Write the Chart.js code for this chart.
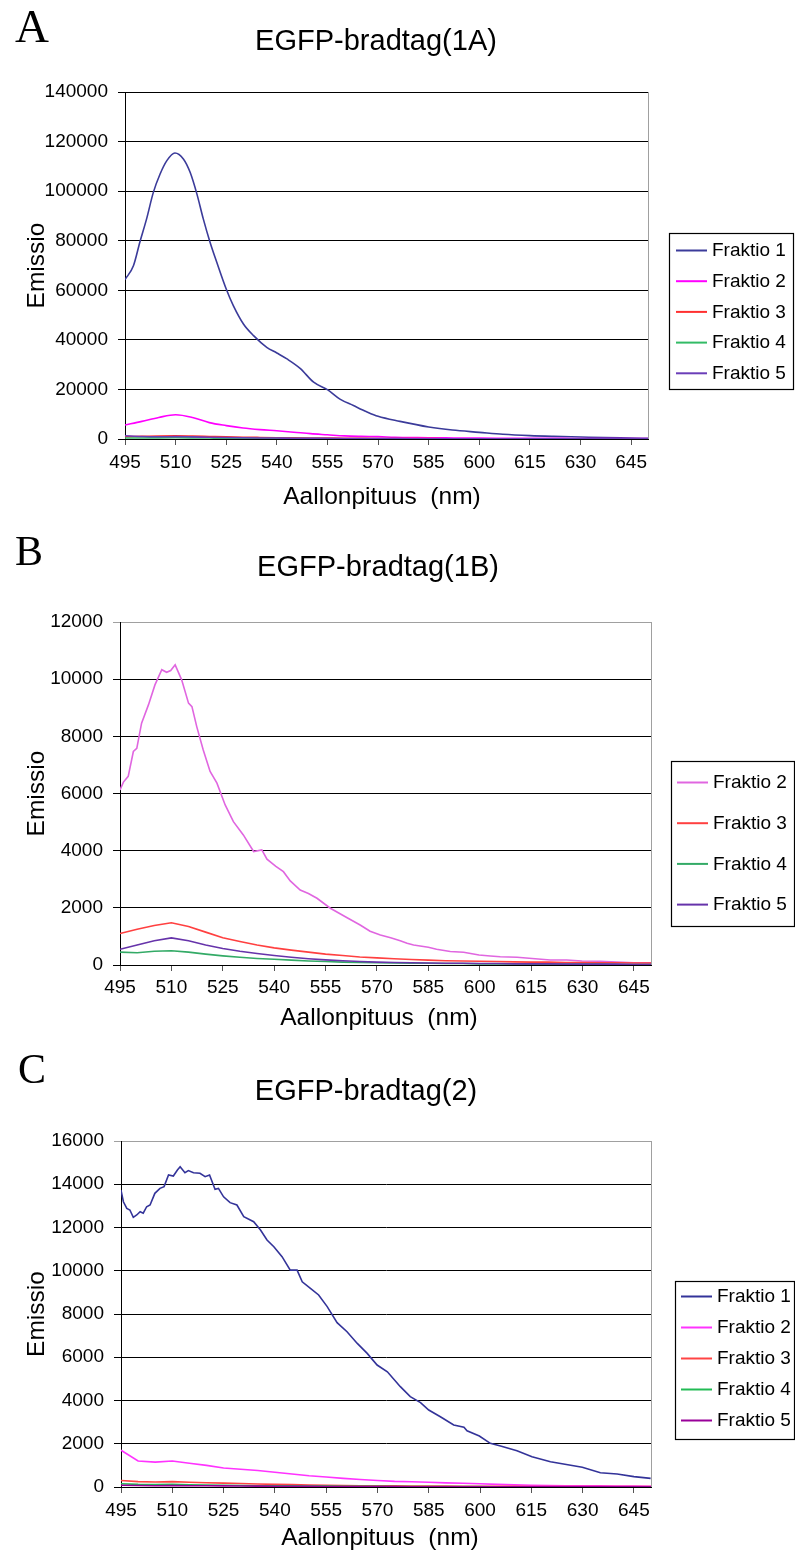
<!DOCTYPE html>
<html>
<head>
<meta charset="utf-8">
<title>EGFP-bradtag</title>
<script src="https://cdn.jsdelivr.net/npm/chart.js@4.4.1/dist/chart.umd.min.js"></script>
<style>
  html, body { margin: 0; padding: 0; background: #fff; }
  .panel { position: absolute; left: 0; width: 795px; }
  canvas { display: block; }
</style>
</head>
<body>
<div class="panel" style="top:0px"><canvas id="chartA" width="795" height="515"></canvas></div>
<div class="panel" style="top:515px"><canvas id="chartB" width="795" height="525"></canvas></div>
<div class="panel" style="top:1040px"><canvas id="chartC" width="795" height="520"></canvas></div>

<script>
// ---- data ----
var xTicksFrom = 495, xTicksStep = 15, xMax = 650;

// shared 5 nm grid for the weaker fractions
var wl5 = [495, 500, 505, 510, 515, 520, 525, 530, 535, 540, 545, 550, 555, 560, 565, 570,
           575, 580, 585, 590, 595, 600, 605, 610, 615, 620, 625, 630, 635, 640, 645, 650];

// A: EGFP-bradtag(1A)
var wlA1 = [495, 497.5, 499.4, 501.4, 503.4, 505.4, 507.4, 509.8, 512.3, 514.3, 516.3, 518.2, 520.2, 522.2,
            525, 527.1, 530.1, 533.1, 537, 540, 543, 546.9, 550.9, 555.1, 558.7, 562.7, 566.6, 570, 576.5,
            585, 592, 600, 607, 615, 622, 630, 637, 645, 650];
var fr1A = [64300, 69900, 79400, 88800, 99500, 106900, 112300, 115400, 113000, 107600, 98900, 88800, 79400, 71300,
            60500, 53800, 46400, 41700, 37000, 34700, 32300, 28500, 22900, 19800, 16100, 13500, 11000, 9150, 7100,
            4840, 3600, 2690, 1900, 1345, 1050, 810, 600, 400, 270];
var fr2A = [5650, 7100, 8700, 9800, 8700, 6600, 5400, 4450, 3800, 3300, 2750, 2150, 1700, 1250, 1050, 940,
            700, 600, 500, 450, 400, 350, 320, 300, 280, 260, 240, 220, 200, 190, 180, 170];
var fr3A = [900, 1050, 1200, 1250, 1150, 1000, 850, 720, 620, 530, 460, 400, 350, 300, 260, 220,
            190, 170, 150, 130, 120, 110, 100, 90, 80, 80, 70, 70, 60, 60, 50, 50];
var fr4A = [400, 420, 460, 480, 440, 380, 320, 270, 230, 200, 170, 150, 130, 110, 100, 90,
            80, 70, 60, 60, 50, 50, 40, 40, 40, 30, 30, 30, 30, 30, 20, 20];
var fr5A = [1300, 1000, 900, 950, 850, 720, 600, 500, 430, 380, 330, 290, 250, 220, 190, 170,
            150, 130, 120, 110, 100, 90, 80, 80, 70, 70, 60, 60, 60, 50, 50, 50];

// B: EGFP-bradtag(1B)
var wlB2 = [495, 496, 497.4, 498.9, 499.9, 501.3, 503.3, 505.2, 507.2, 508.6, 509.8, 511.1, 513, 515, 516,
            517.4, 519.3, 521.3, 523.3, 525.7, 528.1, 531, 534, 536.4, 537.9, 540.5, 542.7, 544.7, 547.6, 550,
            552.5, 556.4, 561.3, 565.1, 568, 571, 574, 576.8, 578.8, 580.7, 582.6, 585, 587.4, 591.4, 595.3,
            599.8, 603.1, 606, 610.9, 615.3, 620.6, 625.4, 629.8, 635.1, 640, 645, 650];
var fr2B = [6125, 6400, 6600, 7470, 7580, 8460, 9100, 9800, 10330, 10240, 10300, 10500, 9975, 9160, 9040,
            8340, 7525, 6770, 6360, 5600, 5015, 4550, 3970, 4025, 3700, 3450, 3265, 2940, 2625, 2500,
            2335, 1985, 1655, 1400, 1180, 1050, 950, 850, 760, 700, 665, 620, 550, 470, 445,
            350, 315, 290, 270, 230, 175, 175, 140, 130, 105, 80, 80];
var fr3B = [1100, 1250, 1380, 1480, 1350, 1150, 950, 820, 700, 600, 520, 450, 380, 330, 280, 250,
            220, 190, 170, 150, 140, 130, 120, 110, 100, 100, 90, 90, 80, 80, 70, 70];
var fr4B = [450, 430, 480, 500, 450, 380, 320, 270, 230, 200, 170, 140, 120, 100, 90, 80,
            70, 60, 60, 50, 50, 40, 40, 40, 30, 30, 30, 30, 30, 20, 20, 20];
var fr5B = [550, 700, 850, 950, 850, 700, 580, 480, 400, 330, 270, 220, 180, 150, 120, 100,
            90, 80, 70, 60, 60, 50, 50, 40, 40, 40, 30, 30, 30, 30, 20, 20];

// C: EGFP-bradtag(2)
var wlC1 = [495, 495.7, 496.7, 497.6, 498.6, 499.6, 500.6, 501.5, 502.5, 503.5, 504.9, 506.4, 507.6, 508.9, 510.3,
            511.5, 512.3, 513.7, 514.7, 516.2, 518.1, 519.6, 520.9, 522.5, 523.5, 525, 526.9, 528.9, 530.9, 533.8,
            535.8, 537.7, 539.7, 542.1, 544.5, 546.5, 548, 550.4, 552.8, 555.3, 558.2, 561.1, 564.1, 567, 569.9,
            572.9, 576.7, 579.6, 582.6, 585, 588.4, 592.3, 595.3, 596.2, 599.8, 603, 606, 610.8, 615.2, 620.6,
            629.9, 635.2, 640.1, 645, 649.9];
var fr1C = [13730, 13190, 12880, 12810, 12470, 12580, 12730, 12660, 12960, 13040, 13580, 13810, 13890, 14430, 14380,
            14660, 14810, 14530, 14630, 14530, 14510, 14350, 14430, 13770, 13810, 13420, 13150, 13040, 12500, 12270,
            11880, 11420, 11110, 10650, 10030, 10030, 9490, 9190, 8880, 8340, 7600, 7180, 6640, 6180, 5640,
            5330, 4640, 4180, 3900, 3560, 3250, 2870, 2760, 2600, 2360, 2020, 1900, 1680, 1400, 1170,
            910, 660, 600, 480, 400];
var fr2C = [1700, 1200, 1150, 1200, 1100, 1000, 880, 820, 760, 680, 600, 520, 460, 400, 350, 300,
            260, 240, 220, 190, 170, 150, 120, 100, 80, 70, 60, 50, 50, 40, 40, 30];
var fr3C = [300, 250, 230, 250, 220, 200, 180, 160, 140, 120, 110, 90, 80, 70, 60, 50,
            50, 40, 40, 40, 30, 30, 30, 30, 20, 20, 20, 20, 20, 20, 20, 20];
var fr4C = [150, 120, 110, 120, 100, 90, 80, 70, 60, 55, 50, 45, 40, 35, 30, 30,
            25, 25, 20, 20, 20, 20, 15, 15, 15, 15, 10, 10, 10, 10, 10, 10];
var fr5C = [80, 70, 60, 65, 60, 55, 50, 45, 40, 35, 30, 30, 25, 25, 20, 20,
            20, 15, 15, 15, 15, 10, 10, 10, 10, 10, 10, 10, 10, 10, 10, 10];

// ---- drawing ----
var SANS = '"Liberation Sans", Arial, sans-serif';
var SERIF = '"Liberation Serif", "Times New Roman", serif';
Chart.defaults.font.family = SANS;

function pts(xs, ys) {
  return xs.map(function (x, i) { return { x: x, y: ys[i] }; });
}

// titles, panel letter, plot frame and the boxed legend (Excel look)
var panelDecor = {
  id: 'panelDecor',
  beforeDraw: function (chart, args, o) {
    var ctx = chart.ctx, a = chart.chartArea;
    ctx.save();
    ctx.strokeStyle = '#a0a0a0';
    ctx.lineWidth = 1;
    ctx.strokeRect(Math.round(a.left) + 0.5, Math.round(a.top) + 0.5,
                   Math.round(a.right - a.left), Math.round(a.bottom - a.top));
    ctx.restore();
  },
  afterDraw: function (chart, args, o) {
    var ctx = chart.ctx, a = chart.chartArea;
    ctx.save();
    ctx.fillStyle = '#000';

    ctx.font = o.letterSize + 'px ' + SERIF;
    ctx.textAlign = 'left';
    ctx.textBaseline = 'alphabetic';
    ctx.fillText(o.letter, o.letterX, o.letterY);

    ctx.textAlign = 'center';
    ctx.textBaseline = 'middle';
    ctx.font = '29px ' + SANS;
    ctx.fillText(o.title, o.titleX, o.titleY);

    ctx.font = '24.5px ' + SANS;
    ctx.fillText('Aallonpituus  (nm)', o.xTitleX, o.xTitleY);
    ctx.save();
    ctx.translate(37, (a.top + a.bottom) / 2);
    ctx.rotate(-Math.PI / 2);
    ctx.fillText('Emissio', 0, 0);
    ctx.restore();

    // legend box
    var lg = o.legend;
    ctx.strokeStyle = '#000';
    ctx.lineWidth = 1.2;
    ctx.strokeRect(lg.x + 0.5, lg.y + 0.5, lg.w, lg.h);
    ctx.font = '19px ' + SANS;
    ctx.textAlign = 'left';
    chart.data.datasets.forEach(function (ds, i) {
      var y = lg.row0 + i * lg.step;
      ctx.strokeStyle = ds.borderColor;
      ctx.lineWidth = 2;
      ctx.beginPath();
      ctx.moveTo(lg.lineX1, y + 0.5);
      ctx.lineTo(lg.lineX2, y + 0.5);
      ctx.stroke();
      ctx.fillStyle = '#000';
      ctx.fillText(ds.label, lg.textX, y + 1);
    });
    ctx.restore();
  }
};

function makePanel(id, p) {
  var canvas = document.getElementById(id);
  var H = canvas.height, W = canvas.width;
  var X_H = 40;
  var n = p.series.length;
  new Chart(canvas, {
    type: 'line',
    data: {
      datasets: p.series.map(function (s, i) {
        return {
          label: s.label,
          data: pts(s.xs, s.ys),
          borderColor: s.color,
          backgroundColor: s.color,
          borderWidth: 1.6,
          pointRadius: 0,
          tension: p.smooth ? 0.35 : 0,
          cubicInterpolationMode: p.smooth ? 'monotone' : 'default',
          fill: false,
          order: n - i
        };
      })
    },
    options: {
      responsive: false,
      animation: false,
      events: [],
      layout: {
        padding: { top: p.plotTop, right: W - p.plotRight, bottom: H - p.plotBottom - X_H, left: 0 }
      },
      plugins: {
        legend: { display: false },
        tooltip: { enabled: false },
        title: { display: false },
        panelDecor: p.decor
      },
      scales: {
        x: {
          type: 'linear',
          min: xTicksFrom,
          max: xMax,
          afterFit: function (s) { s.height = X_H; },
          ticks: {
            stepSize: xTicksStep,
            includeBounds: false,
            color: '#000',
            padding: p.xTickPad,
            maxRotation: 0,
            font: { size: 19 },
            callback: function (v) { return v; }
          },
          grid: { drawOnChartArea: false, drawTicks: true, tickLength: 6, color: '#555' },
          border: { display: true, color: '#000', width: 1 }
        },
        y: {
          min: 0,
          max: p.yMax,
          afterFit: function (s) { s.width = p.plotLeft; },
          ticks: {
            stepSize: p.yStep,
            color: '#000',
            padding: 10,
            font: { size: 19 },
            callback: function (v) { return v; }
          },
          grid: {
            drawTicks: true,
            tickLength: 7,
            lineWidth: 1,
            color: function (c) {
              return (p.grayTop && c.tick && c.tick.value === p.yMax) ? '#a0a0a0' : '#000';
            }
          },
          border: { display: true, color: '#000', width: 1 }
        }
      }
    },
    plugins: [panelDecor]
  });
}

makePanel('chartA', {
  plotLeft: 125, plotRight: 648, plotTop: 92, plotBottom: 439,
  yMax: 140000, yStep: 20000, grayTop: false, smooth: true, xTickPad: 6,
  series: [
    { label: 'Fraktio 1', xs: wlA1, ys: fr1A, color: '#3b3b9a' },
    { label: 'Fraktio 2', xs: wl5, ys: fr2A, color: '#ff00ff' },
    { label: 'Fraktio 3', xs: wl5, ys: fr3A, color: '#ff3030' },
    { label: 'Fraktio 4', xs: wl5, ys: fr4A, color: '#33bb66' },
    { label: 'Fraktio 5', xs: wl5, ys: fr5A, color: '#6a3db8' }
  ],
  decor: {
    letter: 'A', letterX: 15, letterY: 42, letterSize: 47,
    title: 'EGFP-bradtag(1A)', titleX: 376, titleY: 42,
    xTitleX: 382, xTitleY: 497,
    legend: { x: 669, y: 233, w: 124, h: 156, row0: 250, step: 30.7, lineX1: 676, lineX2: 707, textX: 712 }
  }
});

makePanel('chartB', {
  plotLeft: 120, plotRight: 651, plotTop: 107, plotBottom: 450,
  yMax: 12000, yStep: 2000, grayTop: true, smooth: false, xTickPad: 5,
  series: [
    { label: 'Fraktio 2', xs: wlB2, ys: fr2B, color: '#e066e0' },
    { label: 'Fraktio 3', xs: wl5, ys: fr3B, color: '#ff4040' },
    { label: 'Fraktio 4', xs: wl5, ys: fr4B, color: '#33aa66' },
    { label: 'Fraktio 5', xs: wl5, ys: fr5B, color: '#6633aa' }
  ],
  decor: {
    letter: 'B', letterX: 15, letterY: 50, letterSize: 42,
    title: 'EGFP-bradtag(1B)', titleX: 378, titleY: 53,
    xTitleX: 379, xTitleY: 503,
    legend: { x: 671, y: 246, w: 123, h: 165, row0: 267, step: 40.7, lineX1: 677, lineX2: 708, textX: 713 }
  }
});

makePanel('chartC', {
  plotLeft: 121, plotRight: 651, plotTop: 101, plotBottom: 447,
  yMax: 16000, yStep: 2000, grayTop: true, smooth: false, xTickPad: 6,
  series: [
    { label: 'Fraktio 1', xs: wlC1, ys: fr1C, color: '#333399' },
    { label: 'Fraktio 2', xs: wl5, ys: fr2C, color: '#ff33ff' },
    { label: 'Fraktio 3', xs: wl5, ys: fr3C, color: '#ff4444' },
    { label: 'Fraktio 4', xs: wl5, ys: fr4C, color: '#22bb55' },
    { label: 'Fraktio 5', xs: wl5, ys: fr5C, color: '#990099' }
  ],
  decor: {
    letter: 'C', letterX: 18, letterY: 43, letterSize: 42,
    title: 'EGFP-bradtag(2)', titleX: 366, titleY: 52,
    xTitleX: 380, xTitleY: 498,
    legend: { x: 675, y: 241, w: 119, h: 158, row0: 256, step: 31, lineX1: 681, lineX2: 712, textX: 717 }
  }
});
</script>
</body>
</html>
